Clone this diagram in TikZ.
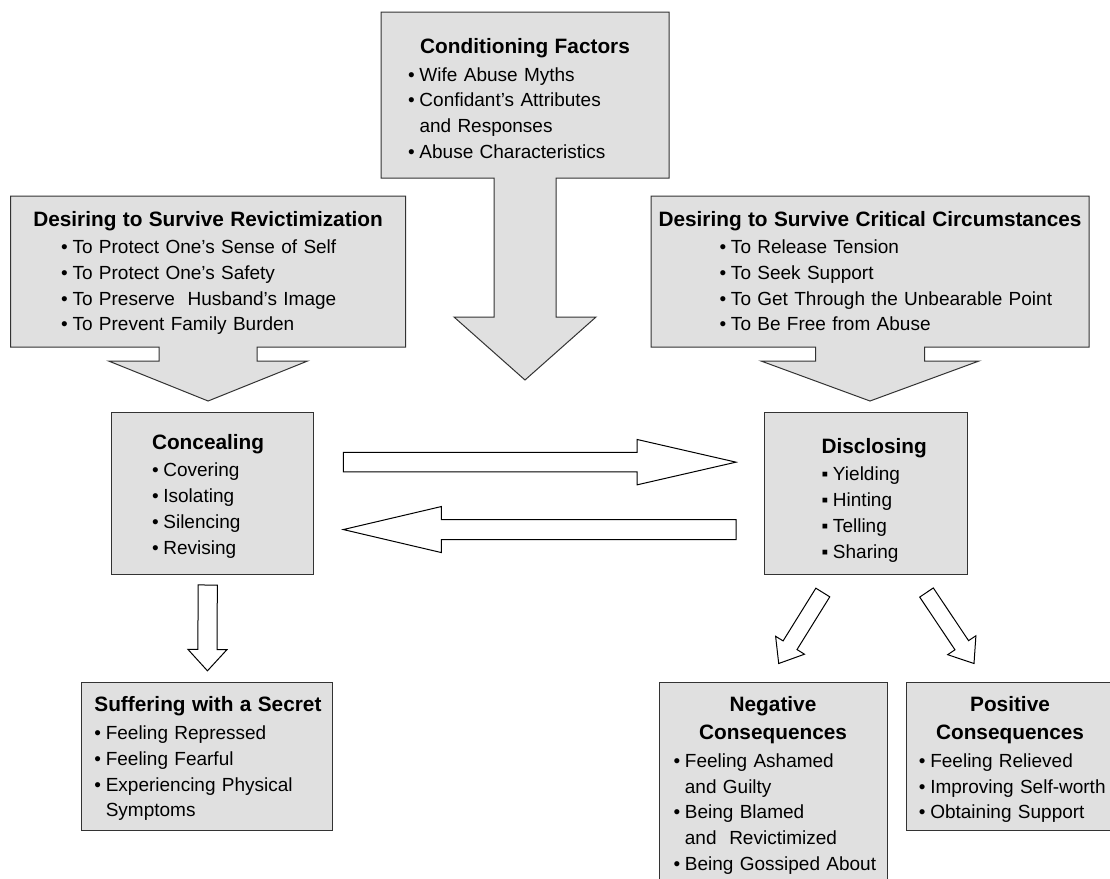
\documentclass[tikz,border=0pt]{standalone}
\usepackage{fontspec}
\setmainfont{Liberation Sans}
\usetikzlibrary{calc,backgrounds}

\definecolor{boxgray}{gray}{0.88}
\definecolor{linegray}{gray}{0.2}

% bullet lines inside the boxes
\newlength{\bx}
\newcommand{\ttl}[1]{\makebox[\linewidth][c]{\bfseries\fontsize{20.8}{25.8}\selectfont #1}}
\newcommand{\ltl}[1]{\hspace*{\bx}{\bfseries\fontsize{20.8}{25.8}\selectfont #1}}
\newcommand{\itm}[1]{\hspace*{\bx}\makebox[11.4pt][l]{\textbullet}#1}
\newcommand{\sqi}[1]{\hspace*{\bx}\makebox[11.4pt][l]{▪}#1}
\newcommand{\cnt}[1]{\hspace*{\bx}\hspace*{11.4pt}#1}

% box with a block arrow hanging below it: node, shaft/head half width, shaft/head length
\newcommand{\callout}[5]{%
  \draw[callbox] (#1.north west) -- (#1.north east) -- (#1.south east)
    -- ($(#1.south)+(#2,0)$) -- ($(#1.south)+(#2,#4)$) -- ($(#1.south)+(#3,#4)$)
    -- ($(#1.south)+(0,#4+#5)$) -- ($(#1.south)+(-#3,#4)$) -- ($(#1.south)+(-#2,#4)$)
    -- ($(#1.south)+(-#2,0)$) -- (#1.south west) -- cycle;}

% hollow block arrow: tail, tip, shaft half width, head half width, head length
\newcommand{\blockarrow}[5]{%
  \coordinate (ba-h) at ($(#2)!#5pt!(#1)$);
  \draw[hollow arrow] ($(#1)!#3pt!90:(#2)$) -- ($(ba-h)!#3pt!-90:(#1)$)
    -- ($(ba-h)!#4pt!-90:(#1)$) -- (#2) -- ($(ba-h)!#4pt!90:(#1)$)
    -- ($(ba-h)!#3pt!90:(#1)$) -- ($(#1)!#3pt!-90:(#2)$) -- cycle;}

\begin{document}
\begin{tikzpicture}[
    x=1pt, y=-1pt,
    txt/.style={anchor=north west, inner sep=0pt, outer sep=0pt, align=left,
      font=\fontsize{19}{25.8}\selectfont},
    txtbox/.style={txt, draw=linegray, fill=boxgray, line width=1pt},
    callbox/.style={draw=linegray, fill=boxgray, line width=1pt, line join=miter},
    hollow arrow/.style={draw=black, fill=white, line width=1pt, line join=miter},
    bullet x/.code={\setlength{\bx}{#1pt}}
]
\path[use as bounding box, clip] (0,0) rectangle (1110,878);

% --- NODES ---

% top row: the three boxes with arrows
\node[txt, text width=288pt, text height=41pt, text depth=125pt, bullet x=27.1] (cond) at (381,12) {%
  \ttl{Conditioning Factors}\\[2.2pt]
  \itm{Wife Abuse Myths}\\
  \itm{Confidant's Attributes}\\
  \cnt{and Responses}\\
  \itm{Abuse Characteristics}};

\node[txt, text width=395pt, text height=30.5pt, text depth=120.5pt, bullet x=50.6] (revict) at (10.6,196) {%
  \ttl{Desiring to Survive Revictimization}\\[1.2pt]
  \itm{To Protect One's Sense of Self}\\
  \itm{To Protect One's Safety}\\
  \itm{To Preserve\ \ Husband's Image}\\
  \itm{To Prevent Family Burden}};

\node[txt, text width=438pt, text height=30.5pt, text depth=120.5pt, bullet x=68.6] (critical) at (651,196) {%
  \ttl{Desiring to Survive Critical Circumstances}\\[1.2pt]
  \itm{To Release Tension}\\
  \itm{To Seek Support}\\
  \itm{To Get Through the Unbearable Point}\\
  \itm{To Be Free from Abuse}};

% middle row
\node[txtbox, text width=202.6pt, text height=36.3pt, text depth=125pt, bullet x=41] (conceal) at (111,412.7) {%
  \ltl{Concealing}\\[2pt]
  \itm{Covering}\\
  \itm{Isolating}\\
  \itm{Silencing}\\
  \itm{Revising}};

\node[txtbox, text width=202.4pt, text height=40.3pt, text depth=121pt, bullet x=57] (disclose) at (764.6,412.7) {%
  \ltl{Disclosing}\\[2pt]
  \sqi{Yielding}\\
  \sqi{Hinting}\\
  \sqi{Telling}\\
  \sqi{Sharing}};

% bottom row: outcomes
\node[txtbox, text width=251.3pt, text height=29.4pt, text depth=118.6pt, bullet x=13] (suffer) at (81.4,682) {%
  \ltl{Suffering with a Secret}\\[2.2pt]
  \itm{Feeling Repressed}\\
  \itm{Feeling Fearful}\\
  \itm{Experiencing Physical}\\
  \cnt{Symptoms}};

\node[txtbox, text width=228pt, text height=29.4pt, text depth=220pt, bullet x=14.5] (neg) at (659,682) {%
  \ttl{Negative}\\[2.2pt]
  \ttl{Consequences}\\[2pt]
  \itm{Feeling Ashamed}\\
  \cnt{and Guilty}\\
  \itm{Being Blamed}\\
  \cnt{and\ \ Revictimized}\\
  \itm{Being Gossiped About}};

\node[txtbox, text width=206.4pt, text height=29.4pt, text depth=118.6pt, bullet x=12.1] (pos) at (906.8,682) {%
  \ttl{Positive}\\[2.2pt]
  \ttl{Consequences}\\[2pt]
  \itm{Feeling Relieved}\\
  \itm{Improving Self-worth}\\
  \itm{Obtaining Support}};

% --- CALLOUT ARROWS (behind the text) ---
\begin{pgfonlayer}{background}
\callout{cond}{31}{71}{139}{63}
\callout{revict}{49}{99.5}{14}{40}
\callout{critical}{54.5}{109}{14}{40}
\end{pgfonlayer}

% --- EDGES ---

% 1. Concealing <-> Disclosing
\coordinate (c2d-a) at ($(conceal.east)+(29.7,-31.2)$);
\coordinate (c2d-b) at ($(disclose.west)+(-28.6,-31.2)$);
\blockarrow{c2d-a}{c2d-b}{9.8}{22.7}{99}
\coordinate (d2c-a) at ($(disclose.west)+(-28.6,36.2)$);
\coordinate (d2c-b) at ($(conceal.east)+(29.7,36.2)$);
\blockarrow{d2c-a}{d2c-b}{10}{23}{98}

% 2. Concealing -> Suffering
\coordinate (c2s-a) at ($(conceal.south)+(-4.6,11)$);
\coordinate (c2s-b) at ($(suffer.north)+(0.4,-11.2)$);
\blockarrow{c2s-a}{c2s-b}{9.6}{19.5}{21.3}

% 3. Disclosing -> consequences
\coordinate (d2n-a) at ($(disclose.south)+(-43,18.5)$);
\coordinate (d2n-b) at ($(neg.north)+(5.7,-18.5)$);
\blockarrow{d2n-a}{d2n-b}{8.2}{17}{21.5}
\coordinate (d2p-a) at ($(disclose.south)+(60.7,18.5)$);
\coordinate (d2p-b) at ($(pos.north)+(-36,-18.5)$);
\blockarrow{d2p-a}{d2p-b}{8.2}{17}{22}

\end{tikzpicture}
\end{document}
